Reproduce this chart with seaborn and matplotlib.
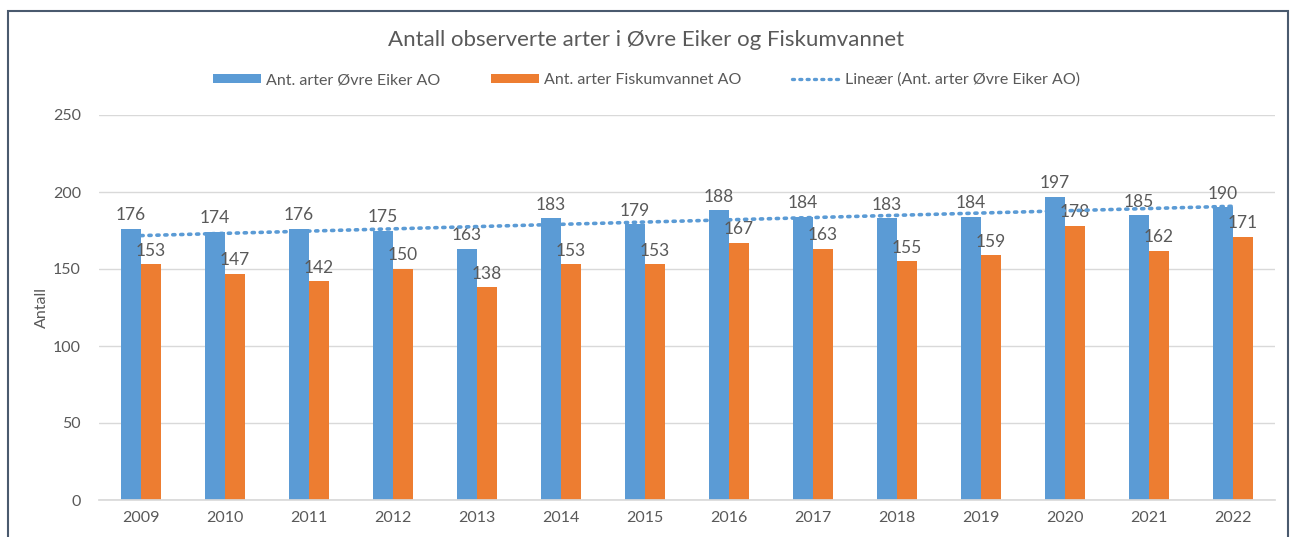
import numpy as np
import pandas as pd
import matplotlib
matplotlib.use("Agg")
import matplotlib.pyplot as plt
import seaborn as sns
from matplotlib.patches import Rectangle, Patch
from matplotlib.lines import Line2D

years = ["2009", "2010", "2011", "2012", "2013", "2014", "2015",
         "2016", "2017", "2018", "2019", "2020", "2021", "2022"]
eiker = [176, 174, 176, 175, 163, 183, 179, 188, 184, 183, 184, 197, 185, 190]
fiskum = [153, 147, 142, 150, 138, 153, 153, 167, 163, 155, 159, 178, 162, 171]
series_names = ["Ant. arter Øvre Eiker AO", "Ant. arter Fiskumvannet AO"]
trend_name = "Lineær (Ant. arter Øvre Eiker AO)"
title = "Antall observerte arter i Øvre Eiker og Fiskumvannet"
ylabel = "Antall"

BLUE = "#5B9BD5"
ORANGE = "#ED7D31"
TXT = "#595959"
GRID = "#D9D9D9"

sns.set_theme(style="white")
plt.rcParams["font.family"] = ["Lato", "DejaVu Sans"]

df = pd.DataFrame({
    "year": years * 2,
    "value": eiker + fiskum,
    "series": [series_names[0]] * len(years) + [series_names[1]] * len(years),
})

fig = plt.figure(figsize=(12.93, 5.37), dpi=100)
ax = fig.add_axes([99 / 1293, 37 / 537, (1275 - 99) / 1293, (500 - 115) / 537])

sns.barplot(data=df, x="year", y="value", hue="series", order=years,
            hue_order=series_names, palette=[BLUE, ORANGE], width=0.476,
            gap=0, saturation=1, ax=ax, legend=False, errorbar=None,
            linewidth=0, edgecolor="none")

for cont in ax.containers:
    ax.bar_label(cont, fmt="%d", padding=4, fontsize=12.5, color=TXT)

# linear trendline for first series
xi = np.arange(len(years))
coef = np.polyfit(xi, eiker, 1)
ax.plot(xi, np.polyval(coef, xi), color=BLUE, lw=2.6,
        linestyle=(0, (0.6, 1.6)), dash_capstyle="round", zorder=5)

ax.set_xlim(-0.5, len(years) - 0.5)
ax.set_ylim(0, 250)
ax.set_yticks([0, 50, 100, 150, 200, 250])
ax.yaxis.grid(True, color=GRID, lw=1)
ax.set_axisbelow(True)
for s in ["top", "right", "left"]:
    ax.spines[s].set_visible(False)
ax.spines["bottom"].set_color(GRID)
ax.tick_params(axis="both", length=0, colors=TXT, labelsize=11.5)
ax.tick_params(axis="y", pad=13)
ax.tick_params(axis="x", pad=8)
ax.set_xlabel("")
ax.set_ylabel(ylabel, color=TXT, fontsize=11.5, labelpad=3)

fig.text(0.5, 1 - 40 / 537, title, ha="center", va="center",
         fontsize=16, color=TXT)

handles = [Patch(facecolor=BLUE, edgecolor="none"),
           Patch(facecolor=ORANGE, edgecolor="none"),
           Line2D([0], [0], color=BLUE, lw=2.4, linestyle=(0, (0.6, 1.6)),
                  dash_capstyle="round")]
leg = fig.legend(handles, series_names + [trend_name], loc="center",
                 bbox_to_anchor=(0.5, 1 - 80 / 537), ncol=3, frameon=False,
                 fontsize=11.5, handlelength=3.0, handleheight=0.55,
                 handletextpad=0.3, columnspacing=3.2)
for t in leg.get_texts():
    t.set_color(TXT)

fig.patches.append(Rectangle((8 / 1293, -0.1), (1288 - 8) / 1293, 1.1 - 11 / 537,
                             transform=fig.transFigure, fill=False,
                             edgecolor="#4A5a6e", lw=1.5))

fig.savefig("out.png", dpi=100)
